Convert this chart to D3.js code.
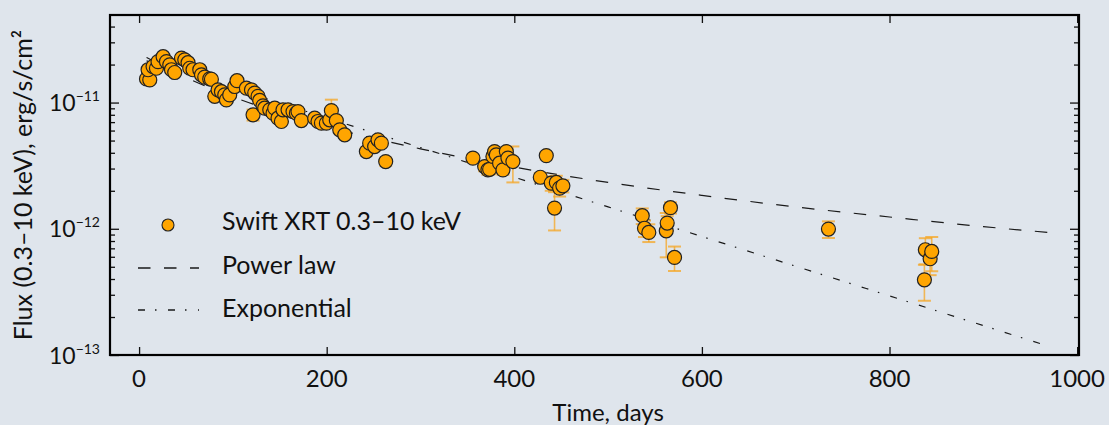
<!DOCTYPE html>
<html><head><meta charset="utf-8">
<script src="https://cdn.jsdelivr.net/npm/d3@7"></script>
<style>
html,body{margin:0;padding:0;background:#dfe5ec;}
svg{display:block;font-family:Lato,"Open Sans",sans-serif;}
</style></head>
<body><svg id="chart" width="1109" height="425"></svg>
<script>
// ---- data ----
const time = [7.9, 11.4, 9.6, 14.9, 18.5, 20.2, 25.6, 29.2, 32.7, 34.5, 38.0, 45.2, 48.7, 52.2, 54.0, 57.5, 64.7, 66.5, 70.0, 75.3, 77.1,
  80.7, 84.2, 87.8, 91.3, 93.1, 96.6, 102.0, 104.4, 114.4, 119.8, 121.5, 123.3, 126.8, 128.6, 132.1, 133.9, 139.3, 142.8, 144.6,
  148.1, 151.7, 153.4, 158.8, 164.1, 167.7, 169.4, 173.0, 187.2, 190.7, 194.4, 199.7, 203.2, 205.0, 210.3, 213.9, 219.2,
  242.3, 245.8, 251.1, 254.7, 258.3, 262.9,
  355.9, 368.4, 371.9, 373.7, 377.2, 379.0, 380.8, 384.3, 387.9, 391.5, 393.2, 398.5,
  427.7, 434.1, 439.4, 442.9, 444.8, 448.3, 451.8,
  536.4, 538.8, 543.4, 562.0, 563.0, 566.5, 570.8,
  734.9, 837.2, 838.2, 843.3, 845.0];
const flux = [1.54e-11, 1.51e-11, 1.82e-11, 1.93e-11, 1.87e-11, 2.11e-11, 2.31e-11, 2.11e-11, 1.99e-11, 1.82e-11, 1.73e-11, 2.25e-11, 2.18e-11, 2.07e-11, 1.87e-11, 1.82e-11, 1.82e-11, 1.66e-11, 1.59e-11, 1.54e-11, 1.53e-11,
  1.12e-11, 1.26e-11, 1.22e-11, 1.15e-11, 1.05e-11, 1.15e-11, 1.34e-11, 1.49e-11, 1.30e-11, 1.26e-11, 8.0e-12, 1.19e-11, 1.12e-11, 1.04e-11, 9.42e-12, 9.03e-12, 8.76e-12, 8.24e-12, 9.03e-12,
  7.52e-12, 7.08e-12, 8.76e-12, 8.76e-12, 8.49e-12, 8.24e-12, 8.49e-12, 7.20e-12, 7.52e-12, 7.08e-12, 6.87e-12, 6.87e-12, 7.30e-12, 8.64e-12, 7.20e-12, 6.08e-12, 5.55e-12,
  4.09e-12, 4.77e-12, 4.48e-12, 5.07e-12, 4.77e-12, 3.41e-12,
  3.63e-12, 3.11e-12, 2.93e-12, 2.96e-12, 3.74e-12, 4.09e-12, 3.85e-12, 3.31e-12, 2.93e-12, 4.09e-12, 3.63e-12, 3.41e-12,
  2.56e-12, 3.80e-12, 2.30e-12, 1.46e-12, 2.33e-12, 2.10e-12, 2.19e-12,
  1.27e-12, 1.01e-12, 9.35e-13, 9.64e-13, 1.11e-12, 1.47e-12, 5.93e-13,
  9.95e-13, 3.94e-13, 6.82e-13, 5.79e-13, 6.61e-13];
const fluxErr = [0.8e-12, 0.8e-12, 0.9e-12, 1.0e-12, 0.9e-12, 1.0e-12, 1.1e-12, 1.0e-12, 1.0e-12, 0.9e-12, 0.9e-12, 1.1e-12, 1.0e-12, 1.0e-12, 0.9e-12, 0.9e-12, 0.9e-12, 0.8e-12, 0.8e-12, 0.8e-12, 0.8e-12,
  0.6e-12, 0.6e-12, 0.6e-12, 0.6e-12, 0.5e-12, 0.6e-12, 0.7e-12, 0.7e-12, 0.6e-12, 0.6e-12, 0.8e-12, 0.6e-12, 0.6e-12, 0.5e-12, 0.5e-12, 0.5e-12, 0.4e-12, 0.4e-12, 0.5e-12,
  0.4e-12, 0.4e-12, 0.4e-12, 0.4e-12, 0.4e-12, 0.4e-12, 0.4e-12, 0.4e-12, 0.4e-12, 0.4e-12, 0.35e-12, 0.35e-12, 0.4e-12, 1.9e-12, 0.4e-12, 0.35e-12, 0.3e-12,
  0.3e-12, 0.3e-12, 0.3e-12, 0.3e-12, 0.3e-12, 0.25e-12,
  0.25e-12, 0.25e-12, 0.25e-12, 0.25e-12, 0.25e-12, 0.3e-12, 0.3e-12, 0.25e-12, 0.25e-12, 0.3e-12, 0.3e-12, 1.08e-12,
  0.2e-12, 0.25e-12, 0.3e-12, 0.49e-12, 0.3e-12, 0.3e-12, 0.25e-12,
  0.18e-12, 0.15e-12, 0.15e-12, 0.37e-12, 0.15e-12, 0.15e-12, 0.13e-12,
  0.15e-12, 0.125e-12, 0.16e-12, 0.15e-12, 0.2e-12];

const powerT = [8, 50, 100, 200, 300, 400, 500, 600, 700, 800, 900, 970];
const powerF = [2.28e-11, 1.58e-11, 1.11e-11, 6.48e-12, 4.30e-12, 3.08e-12, 2.33e-12, 1.84e-12, 1.49e-12, 1.24e-12, 1.04e-12, 9.35e-13];
const expT = [8, 100, 200, 300, 400, 500, 600, 700, 800, 900, 970];
const expF = [2.14e-11, 1.30e-11, 7.56e-12, 4.40e-12, 2.56e-12, 1.49e-12, 8.68e-13, 5.05e-13, 2.94e-13, 1.71e-13, 1.17e-13];

const xTicks = [0, 200, 400, 600, 800, 1000];
const yMajor = [1e-13, 1e-12, 1e-11];
const yMajorExp = ["−13", "−12", "−11"];
const legendLabels = ["Swift XRT 0.3–10 keV", "Power law", "Exponential"];
const xTitle = "Time, days";
const yTitle = "Flux (0.3–10 keV), erg/s/cm²";

// ---- layout ----
const L = 110, R = 1079, T = 15, B = 355;
const svg = d3.select("#chart");
const x = d3.scaleLinear().domain([-31, 1002]).range([L, R]);
const y = d3.scaleLog().domain([1e-13, 4.94e-11]).range([B, T]);

const yMinor = [];
[1e-13, 1e-12, 1e-11].forEach(d => { for (let k = 2; k <= 9; k++) { const v = d * k; if (v < 4.94e-11) yMinor.push(v); } });

function styleAxis(g){ g.select(".domain").remove(); g.selectAll("line").attr("stroke","#111").attr("stroke-width",1.3); g.selectAll("text").remove(); }
svg.append("g").attr("transform", `translate(0,${B})`).call(d3.axisBottom(x).tickValues(xTicks).tickSize(-8)).call(styleAxis);
svg.append("g").attr("transform", `translate(0,${T})`).call(d3.axisTop(x).tickValues(xTicks).tickSize(-8)).call(styleAxis);
svg.append("g").attr("transform", `translate(${L},0)`).call(d3.axisLeft(y).tickValues(yMajor).tickSize(-9)).call(styleAxis);
svg.append("g").attr("transform", `translate(${L},0)`).call(d3.axisLeft(y).tickValues(yMinor).tickSize(-5)).call(styleAxis);
svg.append("g").attr("transform", `translate(${R},0)`).call(d3.axisRight(y).tickValues(yMajor).tickSize(-9)).call(styleAxis);
svg.append("g").attr("transform", `translate(${R},0)`).call(d3.axisRight(y).tickValues(yMinor).tickSize(-5)).call(styleAxis);

// model lines
const line = d3.line().x(d => x(d[0])).y(d => y(d[1])).curve(d3.curveMonotoneX);
svg.append("path").datum(powerT.map((t,i)=>[t,powerF[i]])).attr("d", line)
  .attr("fill","none").attr("stroke","#1a1a1a").attr("stroke-width",1.2).attr("stroke-dasharray","12.5,13.5");
svg.append("path").datum(expT.map((t,i)=>[t,expF[i]])).attr("d", line)
  .attr("fill","none").attr("stroke","#1a1a1a").attr("stroke-width",1.2).attr("stroke-dasharray","7,10,1.5,11.5");

// error bars
const pts = time.map((t,i)=>({t, f: flux[i], e: fluxErr[i]}));
const eb = svg.append("g").attr("stroke","#f5a623").attr("stroke-opacity",0.75).attr("stroke-width",2).attr("fill","none");
pts.forEach(p => {
  const x0 = x(p.t), y1 = y(p.f + p.e), y2 = y(Math.max(p.f - p.e, 1.01e-13));
  eb.append("line").attr("x1",x0).attr("x2",x0).attr("y1",y1).attr("y2",y2).attr("stroke-width",1.6);
  eb.append("line").attr("x1",x0-6.5).attr("x2",x0+6.5).attr("y1",y1).attr("y2",y1);
  eb.append("line").attr("x1",x0-6.5).attr("x2",x0+6.5).attr("y1",y2).attr("y2",y2);
});

// markers
svg.append("g").selectAll("circle").data(pts).join("circle")
  .attr("cx", d => x(d.t)).attr("cy", d => y(d.f)).attr("r", 7)
  .attr("fill","#ffa500").attr("stroke","#222").attr("stroke-width",1.2);

// frame
svg.append("rect").attr("x",L).attr("y",T).attr("width",R-L).attr("height",B-T)
  .attr("fill","none").attr("stroke","#000").attr("stroke-width",2.2);

// tick labels
svg.append("g").selectAll("text").data(xTicks).join("text")
  .attr("x", d => x(d)).attr("y", B + 32).attr("text-anchor","middle")
  .attr("font-size", 24).attr("fill","#111").text(d => d);
const yl = svg.append("g").selectAll("text").data(yMajor).join("text")
  .attr("x", 100).attr("y", d => y(d) + 8.5).attr("text-anchor","end")
  .attr("font-size", 23).attr("fill","#111");
yl.append("tspan").text("10");
yl.append("tspan").attr("font-size",14).attr("dy",-10).text((d,i)=>yMajorExp[i]);

// axis titles
svg.append("text").attr("x", x(500)).attr("y", 421).attr("text-anchor","middle")
  .attr("font-size",24).attr("fill","#111").text(xTitle);
svg.append("text").attr("transform",`translate(32,${(T+B)/2}) rotate(-90)`).attr("text-anchor","middle")
  .attr("font-size",25).attr("fill","#111").text(yTitle);

// legend
const lg = svg.append("g");
lg.append("circle").attr("cx",168).attr("cy",225).attr("r",6).attr("fill","#ffa500").attr("stroke","#222").attr("stroke-width",1.1);
lg.append("line").attr("x1",138).attr("x2",199).attr("y1",268).attr("y2",268).attr("stroke","#1a1a1a").attr("stroke-width",1.5).attr("stroke-dasharray","12.5,13.5");
lg.append("line").attr("x1",138).attr("x2",199).attr("y1",310).attr("y2",310).attr("stroke","#1a1a1a").attr("stroke-width",1.5).attr("stroke-dasharray","7,10,1.5,11.5");
lg.selectAll("text").data(legendLabels).join("text")
  .attr("x",222).attr("y",(d,i)=>[230,274,317][i]).attr("font-size",25).attr("fill","#111").text(d=>d);
</script></body></html>
